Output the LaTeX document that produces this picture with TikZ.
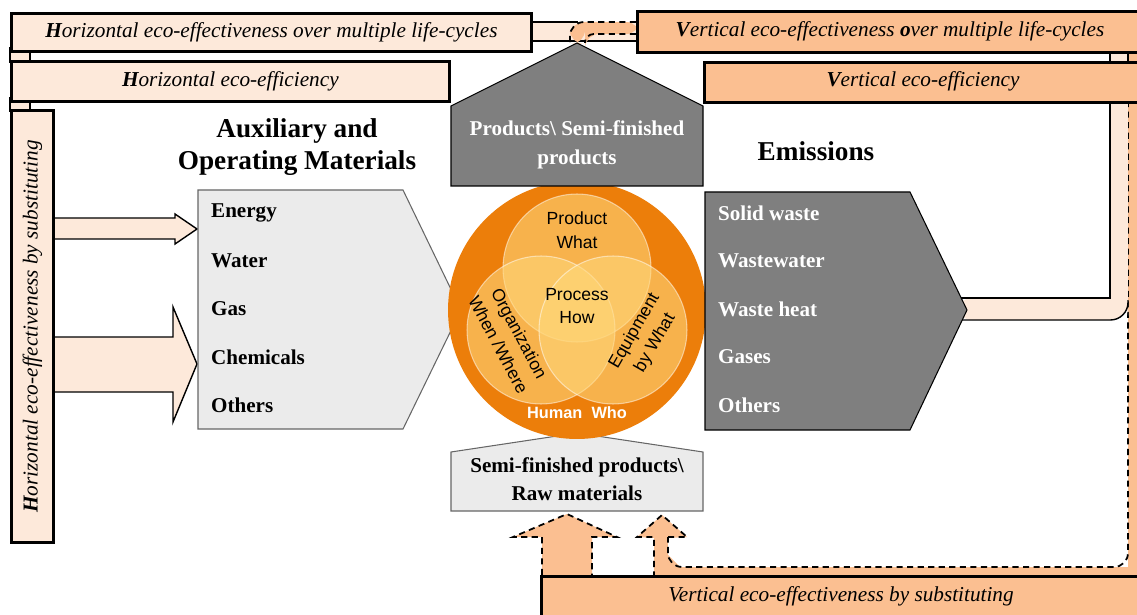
\documentclass[tikz,border=0pt]{standalone}
\usepackage{fontspec}
\setmainfont{Liberation Serif}
\newfontfamily\circfont{Liberation Sans}

\definecolor{peachlight}{RGB}{253,233,218}
\definecolor{peach}{RGB}{251,191,145}
\definecolor{boxgray}{RGB}{235,235,235}
\definecolor{embgray}{RGB}{127,127,127}
\definecolor{ringorange}{RGB}{236,126,10}
\definecolor{innerglow}{RGB}{255,214,120}

\tikzset{
  flowbox/.style={draw=black, line width=1.6pt, anchor=north west, inner sep=0pt},
  boxlabel/.style={font=\fontsize{12.1}{14}\selectfont\itshape},
  itemlabel/.style={anchor=west, font=\fontsize{12}{14}\selectfont\bfseries},
  headlabel/.style={align=center, font=\fontsize{15.5}{18}\selectfont\bfseries},
  venn/.style={circle, fill=innerglow, fill opacity=0.6, draw=white, draw opacity=0.5, line width=0.6pt, minimum size=2.96cm, inner sep=0pt},
  venntext/.style={align=center, font=\circfont\fontsize{10}{13.5}\selectfont},
  flowdash/.style={draw=black, line width=1pt, dash pattern=on 3.5pt off 2.5pt}
}

\begin{document}
\begin{tikzpicture}[x=0.02cm, y=-0.02cm]
    \useasboundingbox (0,0) rectangle (1137,615);

    % vertical flows (orange, dashed)
    \fill[peach] (1128,40) rectangle (1150,580);
    \fill[peach] (654,567) rectangle (1150,580);
    \fill[peach] (654,537) rectangle (668,567);
    \fill[peach] (668,555) -- (668,567) -- (680,567) -- cycle;
    \fill[peach] (654,538) -- (637,537) -- (662,515) -- (687,537) -- (668,538) -- cycle;
    \draw[flowdash, rounded corners=8] (1128,101) -- (1128,567) -- (668,567) -- (668,537);
    \draw[flowdash] (668,537) -- (687,537) -- (662,515) -- (637,537) -- (654,537) -- (654,575);
    \fill[peach] (542,577) -- (542,537) -- (513,537) -- (567,514) -- (617,537) -- (592,537) -- (592,577) -- cycle;
    \draw[flowdash] (542,575) -- (542,537) -- (513,537) -- (567,514) -- (617,537) -- (592,537) -- (592,575);

    % emissions back to the top
    \fill[peachlight] (1110,45) rectangle (1128,310);
    \fill[peachlight, rounded corners=10] (955,298) -- (1128,298) -- (1128,320) -- (955,320) -- cycle;
    \draw[line width=0.8pt] (961,298) -- (1110,298) -- (1110,101);
    \draw[line width=0.8pt, rounded corners=10] (961,320) -- (1128,320) -- (1128,300);
    \draw[line width=0.8pt] (1110,49) -- (1110,63) (1128,49) -- (1128,63);

    % top link
    \fill[peachlight] (528,22) rectangle (638,41);
    \draw[line width=0.8pt] (528,22) -- (578,22) (528,41) -- (638,41);
    \fill[peach, rounded corners=8] (640,22) -| (570,44) -- (585,44) |- (640,34) -- cycle;
    \draw[flowdash, rounded corners=8] (636,22) -| (570,43);
    \draw[flowdash, rounded corners=5] (636,34) -| (585,43);

    % left links
    \draw[line width=0.8pt, fill=peachlight] (10,48) rectangle (30,62);
    \draw[line width=0.8pt, fill=peachlight] (10,98) rectangle (30,111);

    \draw[line width=0.8pt, fill=peachlight] (50,218) -- (175,218) -- (175,214) -- (197,229) -- (175,244) -- (175,239) -- (50,239) -- cycle;
    \draw[line width=0.8pt, fill=peachlight] (50,337) -- (173,337) -- (173,307) -- (197,364) -- (173,422) -- (173,392) -- (50,392) -- cycle;

    \node[flowbox, fill=peachlight, minimum width=10.4cm, minimum height=0.76cm, boxlabel] (hmulti) at (10,12) {\textbf{H}orizontal eco-effectiveness over multiple life-cycles};
    \node[flowbox, fill=peachlight, minimum width=8.76cm, minimum height=0.8cm, boxlabel] (heff) at (10,60) {\textbf{H}orizontal eco-efficiency};
    \node[flowbox, fill=peachlight, minimum width=0.84cm, minimum height=8.64cm] (hsub) at (10,109) {};
    \node[boxlabel, rotate=90] (hsubtext) at (hsub.center) {\textbf{H}orizontal eco-effectiveness by substituting};

    \node[flowbox, fill=peach, minimum width=10.4cm, minimum height=0.82cm] (vmulti) at (636,10) {};
    \node[boxlabel] (vmultitext) at (890,31) {\textbf{V}ertical eco-effectiveness \textbf{o}ver multiple life-cycles};
    \node[flowbox, fill=peach, minimum width=9cm, minimum height=0.8cm] (veff) at (703,61) {};
    \node[boxlabel] (vefftext) at (923,81) {\textbf{V}ertical eco-efficiency};
    \node[flowbox, fill=peach, minimum width=12.4cm, minimum height=1cm] (vsub) at (540,575) {};
    \node[boxlabel] (vsubtext) at (841,596) {Vertical eco-effectiveness by substituting};

    % inputs, process, outputs
    \draw[draw=black!60, line width=0.6pt, fill=boxgray] (198,190) -- (403,190) -- (461,310) -- (403,429) -- (198,429) -- cycle;
    \draw[draw=black!60, line width=0.6pt, fill=boxgray] (451,511) -- (451,452) -- (577,433) -- (703,452) -- (703,511) -- cycle;

    \node[circle, fill=ringorange, minimum size=5.16cm, inner sep=0pt] (ring) at (577,310) {};
    \node[venn] (vprod) at (577,268) {};
    \node[venn] (vorg) at (541,330) {};
    \node[venn] (vequip) at (613,330) {};

    \draw[draw=black, line width=0.6pt, fill=embgray] (451,186) -- (451,106) -- (577,43) -- (703,106) -- (703,186) -- cycle;
    \draw[draw=black, line width=0.6pt, fill=embgray] (705,192) -- (910,192) -- (967,310) -- (910,430) -- (705,430) -- cycle;

    \node[venntext] (tprod) at (577,230) {Product\\What};
    \node[venntext] (tproc) at (577,306) {Process\\How};
    \node[venntext, rotate=-62] (torg) at (509,339) {Organization\\When /Where};
    \node[venntext, rotate=60] (tequip) at (645,337) {Equipment\\by What};
    \node[text=white, font=\circfont\bfseries\fontsize{9.3}{12}\selectfont] (thuman) at (577,413) {Human\ \ Who};

    \node[headlabel] (auxtitle) at (297,147) {Auxiliary and\\Operating Materials};
    \node[headlabel] (emititle) at (816,151) {Emissions};

    \foreach \name [count=\i] in {Energy,Water,Gas,Chemicals,Others}
        \node[itemlabel] (aux\i) at (205,165+48*\i) {\name};
    \foreach \name [count=\i] in {Solid waste,Wastewater,Waste heat,Gases,Others}
        \node[itemlabel, text=white] (emi\i) at (712,165+48*\i) {\name};

    \node[itemlabel, anchor=center, align=center, text=white, font=\fontsize{12}{16.5}\selectfont\bfseries] (prodtext) at (577,145) {Products\textbackslash{} Semi-finished\\products};
    \node[itemlabel, anchor=center, align=center, font=\fontsize{12}{16}\selectfont\bfseries] (rawtext) at (577,479) {Semi-finished products\textbackslash\\Raw materials};
\end{tikzpicture}
\end{document}
